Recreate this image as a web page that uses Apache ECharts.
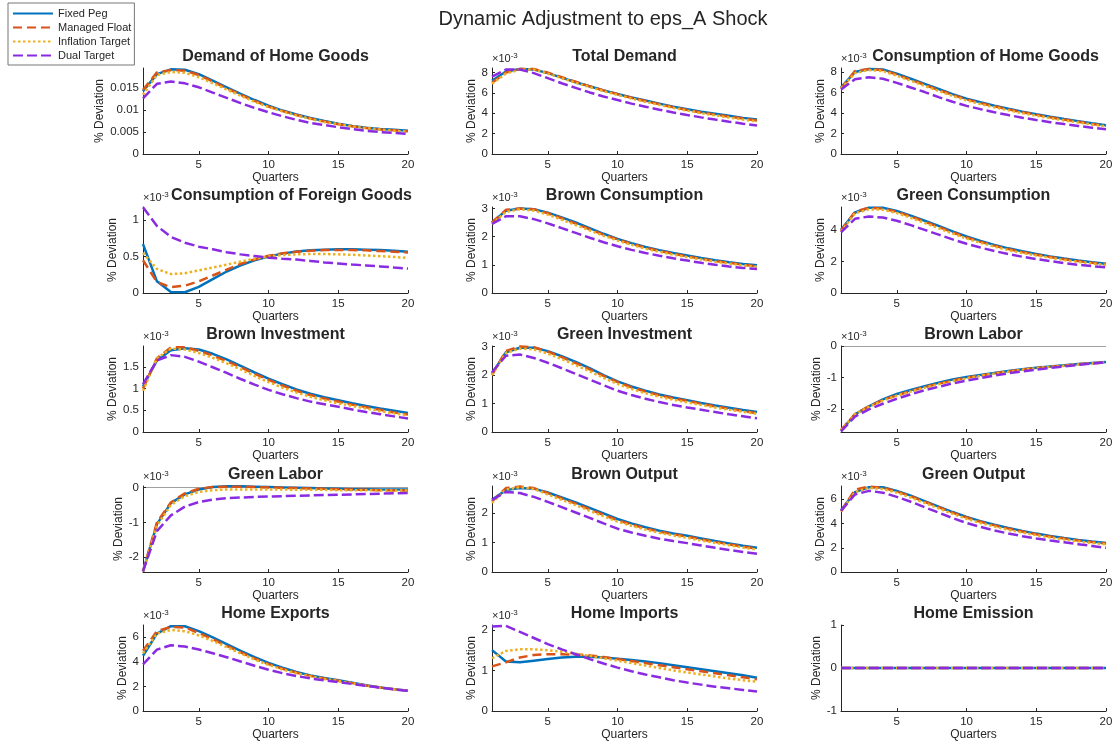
<!DOCTYPE html>
<html><head><meta charset="utf-8">
<script src="https://cdn.jsdelivr.net/npm/echarts@6/dist/echarts.min.js"></script>
<style>html,body{margin:0;padding:0;background:#fff}#c{width:1116px;height:744px}</style>
</head><body><div id="c"></div>
<script>
// ---------------- DATA ----------------
const quarters = [1,2,3,4,5,6,7,8,9,10,11,12,13,14,15,16,17,18,19,20];
const seriesNames = ['Fixed Peg','Managed Float','Inflation Target','Dual Target'];
const mainTitle = 'Dynamic Adjustment to eps_A Shock';
const panelTitles = ['Demand of Home Goods','Total Demand','Consumption of Home Goods',
  'Consumption of Foreign Goods','Brown Consumption','Green Consumption',
  'Brown Investment','Green Investment','Brown Labor',
  'Green Labor','Brown Output','Green Output',
  'Home Exports','Home Imports','Home Emission'];
// order in each panel: Fixed Peg, Managed Float, Inflation Target, Dual Target
const demandHomeGoods = [
 [0.0143,0.0182,0.0193,0.0192,0.0182,0.0167,0.0152,0.0137,0.0123,0.0110,0.0099,0.0090,0.0082,0.0075,0.0069,0.0064,0.0060,0.0057,0.0055,0.0053],
 [0.0146,0.0186,0.0191,0.0190,0.0180,0.0165,0.0150,0.0135,0.0121,0.0108,0.0098,0.0089,0.0081,0.0074,0.0068,0.0063,0.0059,0.0056,0.0054,0.0052],
 [0.0135,0.0180,0.0187,0.0185,0.0175,0.0161,0.0147,0.0133,0.0119,0.0107,0.0097,0.0088,0.0080,0.0073,0.0068,0.0063,0.0059,0.0056,0.0053,0.0051],
 [0.0127,0.0160,0.0165,0.0161,0.0152,0.0140,0.0128,0.0116,0.0105,0.0095,0.0086,0.0078,0.0071,0.0066,0.0061,0.0057,0.0053,0.0050,0.0048,0.0046]];
const totalDemand = [
 [7.2,8.1,8.35,8.3,7.95,7.5,7.05,6.65,6.25,5.9,5.55,5.25,4.95,4.65,4.4,4.15,3.95,3.75,3.55,3.4],
 [7.0,8.0,8.35,8.35,8.0,7.55,7.1,6.65,6.25,5.88,5.52,5.2,4.9,4.6,4.33,4.08,3.87,3.67,3.48,3.3],
 [6.9,7.9,8.3,8.3,7.9,7.45,7.0,6.58,6.18,5.8,5.45,5.12,4.82,4.53,4.26,4.01,3.79,3.58,3.38,3.2],
 [7.6,8.3,8.3,7.95,7.45,6.95,6.5,6.05,5.65,5.3,4.95,4.65,4.35,4.08,3.83,3.6,3.38,3.17,2.98,2.8]];
const consHomeGoods = [
 [6.5,8.0,8.3,8.25,7.85,7.35,6.85,6.35,5.85,5.4,5.05,4.72,4.42,4.14,3.88,3.64,3.42,3.21,3.0,2.82],
 [6.4,8.1,8.3,8.2,7.75,7.25,6.75,6.25,5.77,5.33,4.98,4.66,4.36,4.08,3.82,3.58,3.36,3.15,2.94,2.75],
 [6.4,7.9,8.2,8.1,7.65,7.15,6.65,6.15,5.67,5.23,4.88,4.56,4.27,3.99,3.74,3.5,3.28,3.08,2.88,2.7],
 [6.3,7.3,7.5,7.35,6.95,6.5,6.05,5.55,5.1,4.7,4.38,4.08,3.8,3.55,3.32,3.11,2.92,2.74,2.57,2.42]];
const consForeignGoods = [
 [0.67,0.16,0.015,0.01,0.083,0.19,0.295,0.38,0.45,0.5,0.54,0.57,0.585,0.595,0.6,0.6,0.595,0.59,0.58,0.567],
 [0.45,0.15,0.08,0.1,0.16,0.24,0.32,0.4,0.46,0.51,0.545,0.565,0.58,0.59,0.59,0.59,0.585,0.575,0.565,0.555],
 [0.55,0.33,0.26,0.27,0.31,0.35,0.39,0.43,0.47,0.5,0.52,0.53,0.535,0.535,0.53,0.525,0.515,0.505,0.495,0.48],
 [1.175,0.92,0.77,0.69,0.636,0.6,0.56,0.53,0.507,0.484,0.47,0.46,0.44,0.42,0.405,0.39,0.378,0.365,0.35,0.336]];
const brownConsumption = [
 [2.5,2.92,3.0,2.97,2.85,2.68,2.5,2.3,2.1,1.92,1.77,1.63,1.52,1.42,1.33,1.24,1.16,1.09,1.03,0.98],
 [2.5,2.95,3.0,2.97,2.83,2.65,2.46,2.26,2.07,1.9,1.74,1.61,1.49,1.39,1.3,1.21,1.14,1.07,1.0,0.95],
 [2.45,2.88,2.97,2.92,2.78,2.6,2.41,2.22,2.03,1.86,1.71,1.57,1.46,1.36,1.27,1.19,1.11,1.04,0.98,0.93],
 [2.45,2.72,2.72,2.62,2.47,2.3,2.13,1.96,1.8,1.66,1.53,1.42,1.32,1.23,1.15,1.07,1.0,0.94,0.89,0.85]];
const greenConsumption = [
 [4.0,5.1,5.4,5.4,5.2,4.9,4.58,4.25,3.9,3.58,3.3,3.05,2.83,2.64,2.48,2.32,2.18,2.06,1.95,1.85],
 [3.95,5.15,5.4,5.35,5.15,4.85,4.52,4.18,3.84,3.52,3.24,3.0,2.78,2.59,2.43,2.28,2.14,2.02,1.91,1.82],
 [3.9,5.05,5.3,5.28,5.07,4.77,4.44,4.1,3.77,3.45,3.18,2.94,2.72,2.54,2.38,2.23,2.09,1.97,1.87,1.78],
 [3.85,4.7,4.85,4.78,4.58,4.3,4.0,3.7,3.4,3.12,2.88,2.66,2.47,2.3,2.15,2.02,1.9,1.79,1.7,1.62]];
const brownInvestment = [
 [1.05,1.65,1.88,1.93,1.9,1.8,1.67,1.52,1.37,1.23,1.1,0.98,0.88,0.8,0.73,0.66,0.6,0.54,0.49,0.44],
 [1.0,1.7,1.95,1.95,1.87,1.76,1.63,1.49,1.34,1.2,1.07,0.95,0.85,0.77,0.7,0.63,0.57,0.51,0.45,0.4],
 [0.95,1.7,1.92,1.9,1.82,1.71,1.58,1.44,1.29,1.15,1.02,0.91,0.81,0.73,0.66,0.6,0.54,0.48,0.43,0.38],
 [1.1,1.65,1.77,1.73,1.62,1.49,1.36,1.22,1.09,0.97,0.87,0.78,0.7,0.64,0.58,0.52,0.46,0.41,0.36,0.31]];
const greenInvestment = [
 [2.05,2.8,2.96,2.96,2.84,2.66,2.46,2.24,2.0,1.78,1.6,1.45,1.32,1.21,1.12,1.02,0.93,0.85,0.77,0.7],
 [2.0,2.85,3.0,2.98,2.82,2.63,2.42,2.2,1.97,1.75,1.57,1.42,1.29,1.18,1.09,0.99,0.9,0.82,0.74,0.66],
 [2.0,2.78,2.93,2.9,2.75,2.56,2.35,2.13,1.9,1.69,1.51,1.36,1.24,1.13,1.04,0.95,0.86,0.78,0.71,0.64],
 [2.1,2.68,2.72,2.6,2.43,2.24,2.04,1.84,1.64,1.45,1.3,1.17,1.05,0.95,0.86,0.78,0.7,0.62,0.55,0.48]];
const brownLabor = [
 [-2.7,-2.18,-1.92,-1.7,-1.53,-1.4,-1.28,-1.17,-1.07,-0.99,-0.92,-0.86,-0.8,-0.74,-0.69,-0.65,-0.61,-0.57,-0.54,-0.51],
 [-2.68,-2.17,-1.92,-1.72,-1.57,-1.44,-1.31,-1.2,-1.1,-1.01,-0.94,-0.87,-0.81,-0.75,-0.7,-0.66,-0.62,-0.58,-0.55,-0.52],
 [-2.68,-2.17,-1.94,-1.74,-1.58,-1.45,-1.33,-1.22,-1.12,-1.03,-0.95,-0.88,-0.82,-0.76,-0.71,-0.67,-0.63,-0.59,-0.55,-0.52],
 [-2.72,-2.25,-2.02,-1.84,-1.68,-1.54,-1.41,-1.3,-1.19,-1.1,-1.02,-0.94,-0.87,-0.81,-0.75,-0.7,-0.65,-0.6,-0.56,-0.52]];
const greenLabor = [
 [-2.4,-1.05,-0.45,-0.2,-0.06,0.01,0.03,0.03,0.02,0.01,0.0,-0.01,-0.02,-0.03,-0.04,-0.05,-0.05,-0.06,-0.06,-0.06],
 [-2.4,-1.0,-0.43,-0.17,-0.04,0.01,0.02,0.02,0.01,0.0,-0.01,-0.02,-0.03,-0.04,-0.05,-0.06,-0.07,-0.08,-0.09,-0.09],
 [-2.4,-1.1,-0.5,-0.25,-0.13,-0.08,-0.06,-0.06,-0.06,-0.06,-0.06,-0.07,-0.07,-0.07,-0.08,-0.08,-0.08,-0.09,-0.09,-0.09],
 [-2.4,-1.25,-0.8,-0.55,-0.42,-0.35,-0.31,-0.29,-0.27,-0.26,-0.25,-0.24,-0.23,-0.22,-0.21,-0.2,-0.19,-0.18,-0.17,-0.16]];
const brownOutput = [
 [2.45,2.78,2.85,2.83,2.7,2.53,2.36,2.18,1.99,1.8,1.65,1.52,1.4,1.31,1.23,1.14,1.05,0.97,0.89,0.82],
 [2.4,2.85,2.9,2.85,2.68,2.5,2.32,2.13,1.94,1.76,1.61,1.48,1.37,1.28,1.2,1.11,1.02,0.94,0.86,0.79],
 [2.35,2.8,2.88,2.82,2.63,2.45,2.27,2.08,1.89,1.71,1.57,1.44,1.33,1.24,1.16,1.07,0.99,0.91,0.83,0.76],
 [2.45,2.72,2.68,2.55,2.38,2.2,2.02,1.84,1.65,1.47,1.34,1.23,1.13,1.05,0.98,0.9,0.82,0.75,0.68,0.62]];
const greenOutput = [
 [5.1,6.6,7.0,7.0,6.7,6.3,5.85,5.4,4.95,4.55,4.2,3.9,3.63,3.39,3.17,2.97,2.8,2.65,2.52,2.4],
 [5.0,6.8,7.05,6.95,6.65,6.25,5.8,5.35,4.9,4.5,4.15,3.85,3.58,3.34,3.12,2.93,2.76,2.61,2.47,2.35],
 [5.0,6.6,6.95,6.85,6.55,6.15,5.7,5.25,4.8,4.4,4.05,3.75,3.48,3.25,3.04,2.85,2.68,2.53,2.4,2.28],
 [5.05,6.4,6.7,6.55,6.2,5.8,5.35,4.9,4.45,4.05,3.72,3.43,3.18,2.96,2.77,2.6,2.45,2.3,2.15,2.0]];
const homeExports = [
 [4.5,6.3,6.9,6.9,6.5,6.0,5.45,4.9,4.38,3.92,3.52,3.18,2.9,2.68,2.5,2.3,2.1,1.92,1.78,1.65],
 [4.9,6.5,6.85,6.8,6.35,5.85,5.3,4.78,4.27,3.82,3.44,3.12,2.86,2.64,2.46,2.27,2.08,1.91,1.77,1.65],
 [4.7,6.3,6.6,6.5,6.15,5.7,5.2,4.68,4.19,3.75,3.38,3.07,2.82,2.61,2.44,2.25,2.07,1.9,1.76,1.65],
 [3.8,5.0,5.35,5.25,5.0,4.7,4.38,4.03,3.68,3.36,3.08,2.85,2.65,2.49,2.35,2.2,2.05,1.9,1.76,1.63]];
const homeImports = [
 [1.5,1.22,1.2,1.24,1.28,1.32,1.34,1.34,1.32,1.29,1.26,1.22,1.18,1.13,1.08,1.03,0.98,0.93,0.88,0.82],
 [1.1,1.2,1.32,1.38,1.4,1.4,1.39,1.37,1.33,1.28,1.23,1.18,1.13,1.08,1.03,0.98,0.93,0.88,0.83,0.78],
 [1.3,1.48,1.52,1.52,1.5,1.46,1.41,1.36,1.3,1.24,1.18,1.12,1.06,1.0,0.95,0.9,0.85,0.8,0.76,0.72],
 [2.08,2.1,1.95,1.8,1.65,1.52,1.4,1.28,1.17,1.07,0.98,0.9,0.83,0.76,0.7,0.65,0.6,0.56,0.52,0.48]];
const homeEmission = [
 [0,0,0,0,0,0,0,0,0,0,0,0,0,0,0,0,0,0,0,0],
 [0,0,0,0,0,0,0,0,0,0,0,0,0,0,0,0,0,0,0,0],
 [0,0,0,0,0,0,0,0,0,0,0,0,0,0,0,0,0,0,0,0],
 [0,0,0,0,0,0,0,0,0,0,0,0,0,0,0,0,0,0,0,0]];
const panelData = [demandHomeGoods,totalDemand,consHomeGoods,consForeignGoods,brownConsumption,
  greenConsumption,brownInvestment,greenInvestment,brownLabor,greenLabor,brownOutput,greenOutput,
  homeExports,homeImports,homeEmission];
const yMin = [0,0,0,0,0,0,0,0,-2.74,-2.42,0,0,0,0,-1];
const yMax = [0.0196,8.45,8.4,1.18,3.05,5.45,1.98,3.02,0,0.04,2.92,7.1,7.0,2.12,1];
const yTickValues = [[0,0.005,0.01,0.015],[0,2,4,6,8],[0,2,4,6,8],[0,0.5,1],[0,1,2,3],[0,2,4],
  [0,0.5,1,1.5],[0,1,2,3],[-2,-1,0],[-2,-1,0],[0,1,2],[0,2,4,6],[0,2,4,6],[0,1,2],[-1,0,1]];
const xTickValues = [5,10,15,20];
const exponentLabel = [false,true,true,true,true,true,true,true,true,true,true,true,true,true,false];
const zeroLine = [false,false,false,false,false,false,false,false,true,true,false,false,false,false,false];
const xLabel = 'Quarters';
const yLabel = '% Deviation';

// ---------------- LAYOUT / STYLE ----------------
const FONT = '"Liberation Sans", Arial, Helvetica, sans-serif';
const TXT = '#262626';
const colLeft = [143, 492, 841];
const rowTop = [68, 207, 346, 486, 625];
const W = 265, H = 86;
const yNameGap = [37,12,12,21,12,12,21,12,16,16,12,12,12,12,16];
const titleShift = [0,0,12,16,0,0,0,0,0,0,0,0,0,0,0];
const styles = [
  {color:'#0072BD', type:'solid'},
  {color:'#D95319', type:[9,5]},
  {color:'#EDB120', type:[2.5,2.5]},
  {color:'#8A2BE2', type:[10,4]}
];

const chart = echarts.init(document.getElementById('c'), null, {renderer:'canvas'});
const titles = [{
  text: mainTitle, left: 603, top: 9, textAlign: 'center', padding: 0,
  textStyle: {fontFamily: FONT, fontSize: 20, fontWeight: 'normal', color: TXT}
}];
const grids = [], xAxes = [], yAxes = [], extraY = [], series = [];

panelData.forEach((pd, i) => {
  const col = i % 3, row = Math.floor(i / 3);
  const left = colLeft[col], top = rowTop[row];
  titles.push({
    text: panelTitles[i], left: left + W / 2 + titleShift[i], top: top - 19, textAlign: 'center', padding: 0,
    textStyle: {fontFamily: FONT, fontSize: 16, fontWeight: 'bold', color: TXT}
  });
  grids.push({left: left, top: top, width: W, height: H});
  xAxes.push({
    gridIndex: i, type: 'value', min: 1, max: 20,
    name: xLabel, nameLocation: 'middle', nameGap: 18,
    nameTextStyle: {fontFamily: FONT, fontSize: 12, color: TXT},
    axisLine: {show: true, onZero: false, lineStyle: {color: TXT, width: 1}},
    axisTick: {show: true, inside: true, length: 3, customValues: xTickValues, lineStyle: {color: TXT}},
    axisLabel: {customValues: xTickValues, margin: 5, fontFamily: FONT, fontSize: 11.5, color: TXT},
    splitLine: {show: false}
  });
  yAxes.push({
    gridIndex: i, type: 'value', min: yMin[i], max: yMax[i],
    name: yLabel, nameLocation: 'middle', nameGap: yNameGap[i], nameRotate: 90,
    nameTextStyle: {fontFamily: FONT, fontSize: 12, color: TXT},
    axisLine: {show: true, onZero: false, lineStyle: {color: TXT, width: 1}},
    axisTick: {show: true, inside: true, length: 3, customValues: yTickValues[i], lineStyle: {color: TXT}},
    axisLabel: {customValues: yTickValues[i], margin: 4, fontFamily: FONT, fontSize: 11.5, color: TXT},
    splitLine: {show: false}
  });
  if (exponentLabel[i]) {
    extraY.push({
      gridIndex: i, type: 'value', min: yMin[i], max: yMax[i], position: 'left',
      name: '×10{sup|-3}', nameLocation: 'end', nameGap: 2,
      nameTextStyle: {fontFamily: FONT, fontSize: 11, color: TXT, align: 'left', verticalAlign: 'bottom', lineHeight: 14,
        rich: {sup: {fontFamily: FONT, fontSize: 8, lineHeight: 8, verticalAlign: 'top', color: TXT}}},
      axisLine: {show: false}, axisTick: {show: false}, axisLabel: {show: false}, splitLine: {show: false}
    });
  }
  pd.forEach((vals, s) => {
    const st = styles[s];
    const ser = {
      name: seriesNames[s], type: 'line', xAxisIndex: i, yAxisIndex: i,
      data: quarters.map((q, k) => [q, vals[k]]),
      symbol: 'none', smooth: false, silent: true,
      lineStyle: {color: st.color, width: 2.5, type: st.type},
      itemStyle: {color: st.color}
    };
    if (s === 0 && zeroLine[i]) {
      ser.markLine = {silent: true, symbol: 'none', label: {show: false}, z: 0,
        lineStyle: {color: '#a0a0a0', width: 1, type: 'solid'}, data: [{yAxis: 0}]};
    }
    series.push(ser);
  });
});

chart.setOption({
  animation: false,
  backgroundColor: '#ffffff',
  textStyle: {fontFamily: FONT},
  title: titles,
  legend: {
    data: seriesNames, orient: 'vertical', left: 8, top: 3,
    itemWidth: 40, itemHeight: 11, itemGap: 3, padding: [5, 3, 4, 4],
    borderColor: '#777777', borderWidth: 1, backgroundColor: '#ffffff',
    selectedMode: false,
    textStyle: {fontFamily: FONT, fontSize: 11, color: TXT},
    itemStyle: {opacity: 0}
  },
  grid: grids,
  xAxis: xAxes,
  yAxis: yAxes.concat(extraY),
  series: series
});
</script>
</body></html>
